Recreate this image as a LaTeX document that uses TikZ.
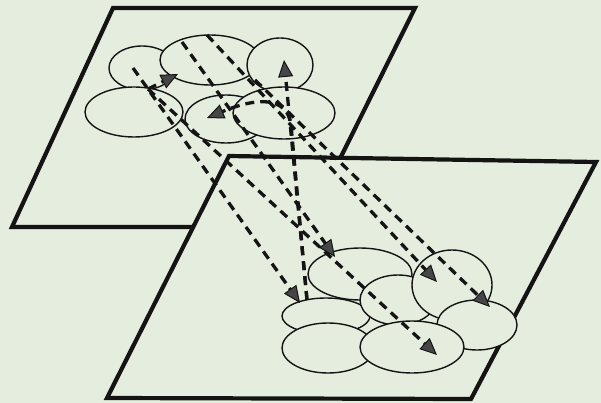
\documentclass[tikz,border=0pt]{standalone}
\usetikzlibrary{arrows.meta,shapes.geometric}
\definecolor{paper}{RGB}{229,237,222}
\definecolor{ink}{RGB}{20,20,20}
\definecolor{headgray}{RGB}{70,70,70}
\begin{document}
\begin{tikzpicture}[x=1pt,y=-1pt,
  plane/.style={draw=ink, line width=4.2pt, line join=miter},
  patch/.style={ellipse, draw=ink, line width=1.4pt, fill=paper, inner sep=0pt},
  link/.style={draw=ink, line width=3.3pt, dash pattern=on 9pt off 6pt,
    -{Triangle[length=17pt,width=15pt,fill=headgray,line width=1pt]}},
]
\fill[paper] (0,0) rectangle (601,403);
\useasboundingbox (0,0) rectangle (601,403);

% upper plane
\draw[plane] (113,8) -- (415,8) -- (306,227) -- (12,227) -- cycle;

% upper patches
\node[patch, minimum width=66pt, minimum height=44pt] (u1) at (142,68) {};
\node[patch, minimum width=98pt, minimum height=50pt] (u4) at (134,112) {};
\node[patch, minimum width=100pt, minimum height=50pt] (u2) at (210,60) {};
\node[patch, minimum width=66pt, minimum height=54pt] (u3) at (280,65) {};
\node[patch, minimum width=82pt, minimum height=48pt] (u5) at (226,119) {};
\node[patch, minimum width=102pt, minimum height=52pt] (u6) at (284,113) {};

% lower plane
\draw[plane, fill=paper] (229,156) -- (596,162) -- (471,399) -- (107,398) -- cycle;

% lower patches
\node[patch, minimum width=88pt, minimum height=36pt] (l5) at (326,316) {};
\node[patch, minimum width=104pt, minimum height=52pt] (l1) at (360,274) {};
\node[patch, minimum width=76pt, minimum height=50pt] (l3) at (398,300) {};
\node[patch, minimum width=80pt, minimum height=70pt] (l2) at (452,285) {};
\node[patch, minimum width=80pt, minimum height=50pt] (l4) at (477,325) {};
\node[patch, minimum width=92pt, minimum height=50pt] (l6) at (328,348) {};
\node[patch, minimum width=104pt, minimum height=52pt] (l7) at (412,347) {};

% connector end points
\coordinate (pA) at (133,68);  \coordinate (pB) at (300,303);
\coordinate (qA) at (148,89);  \coordinate (qB) at (437,355);
\coordinate (rA) at (182,42);  \coordinate (rB) at (335,257);
\coordinate (sA) at (207,35);  \coordinate (sB) at (437,282);
\coordinate (tA) at (255,80);  \coordinate (tB) at (490,307);
\coordinate (vA) at (307,300); \coordinate (vB) at (284,60);
\coordinate (hB) at (207,118);
\coordinate (kB) at (178,74);

% connectors
\draw[link] (pA) -- (pB);
\draw[link] (qA) -- (qB);
\draw[link] (rA) -- (rB);
\draw[link] (sA) -- (sB);
\draw[link] (tA) -- (tB);
\draw[link] (vA) -- (vB);
\draw[link] (vA) -- (291,125) .. controls (287,95) and (255,98) .. (hB);
\draw[link] (qA) -- (kB);
\end{tikzpicture}
\end{document}
